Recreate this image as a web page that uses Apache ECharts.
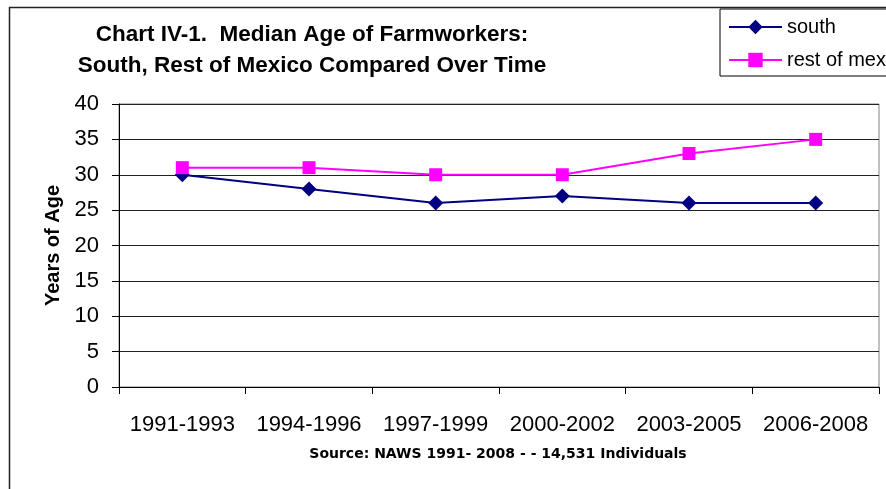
<!DOCTYPE html>
<html>
<head>
<meta charset="utf-8">
<script src="https://cdn.jsdelivr.net/npm/echarts@6/dist/echarts.min.js"></script>
<style>
  html, body { margin: 0; padding: 0; background: #fff; }
  #chart { width: 886px; height: 489px; }
</style>
</head>
<body>
<div id="chart"></div>
<script>
const periods = ['1991-1993', '1994-1996', '1997-1999', '2000-2002', '2003-2005', '2006-2008']
const south = [30, 28, 26, 27, 26, 26]
const restOfMexico = [31, 31, 30, 30, 33, 35]
const yTicks = { min: 0, max: 40, interval: 5 }

const chart = echarts.init(document.getElementById('chart'))

chart.setOption({
  animation: false,
  backgroundColor: '#fff',
  textStyle: { fontFamily: 'Liberation Sans, Arial, sans-serif', color: '#000' },
  title: {
    text: 'Chart IV-1.  Median Age of Farmworkers:\nSouth, Rest of Mexico Compared Over Time',
    left: 307,
    top: 14,
    textAlign: 'center',
    textStyle: { fontSize: 22.5, fontWeight: 'bold', lineHeight: 31, color: '#000' }
  },
  legend: {
    orient: 'vertical',
    left: 720,
    top: 9,
    padding: [8, 120, 6, 8],
    itemGap: 13,
    itemWidth: 53,
    itemHeight: 18,
    borderColor: '#000',
    borderWidth: 1,
    textStyle: { fontSize: 20, color: '#000' },
    data: ['south', 'rest of mexico']
  },
  grid: {
    left: 119,
    right: 7,
    top: 104,
    bottom: 102,
    show: true,
    borderColor: '#808080',
    borderWidth: 1
  },
  xAxis: {
    type: 'category',
    data: periods,
    boundaryGap: true,
    axisLine: { lineStyle: { color: '#000', width: 1 } },
    axisTick: { show: true, interval: 0, length: 7, lineStyle: { color: '#000' } },
    axisLabel: { fontSize: 22, color: '#000', margin: 27, interval: 0 }
  },
  yAxis: {
    type: 'value',
    min: yTicks.min,
    max: yTicks.max,
    interval: yTicks.interval,
    name: 'Years of Age',
    nameLocation: 'middle',
    nameGap: 55,
    nameTextStyle: { fontSize: 20, fontWeight: 'bold', color: '#000' },
    axisLine: { show: true, lineStyle: { color: '#000', width: 1 } },
    axisTick: { show: true, length: 7, lineStyle: { color: '#000' } },
    axisLabel: { fontSize: 22, color: '#000', margin: 20 },
    splitLine: { show: true, lineStyle: { color: '#222', width: 1 } }
  },
  series: [
    {
      name: 'south',
      type: 'line',
      data: south,
      symbol: 'diamond',
      symbolSize: 15,
      color: '#000080',
      lineStyle: { color: '#000080', width: 2 },
      itemStyle: { color: '#000080' }
    },
    {
      name: 'rest of mexico',
      type: 'line',
      data: restOfMexico,
      symbol: 'rect',
      symbolSize: 13,
      color: '#ff00ff',
      lineStyle: { color: '#ff00ff', width: 2 },
      itemStyle: { color: '#ff00ff' }
    }
  ],
  graphic: [
    {
      type: 'rect',
      shape: { x: 9.5, y: 7.5, width: 900, height: 500 },
      style: { fill: null, stroke: '#222', lineWidth: 1.5 },
      silent: true,
      z: -1
    },
    {
      type: 'text',
      x: 498,
      y: 447,
      style: {
        text: 'Source: NAWS 1991- 2008 - - 14,531 Individuals',
        fontSize: 14,
        fontWeight: 'bold',
        fill: '#000',
        textAlign: 'center',
        fontFamily: 'DejaVu Sans, sans-serif'
      }
    }
  ]
})
</script>
</body>
</html>
